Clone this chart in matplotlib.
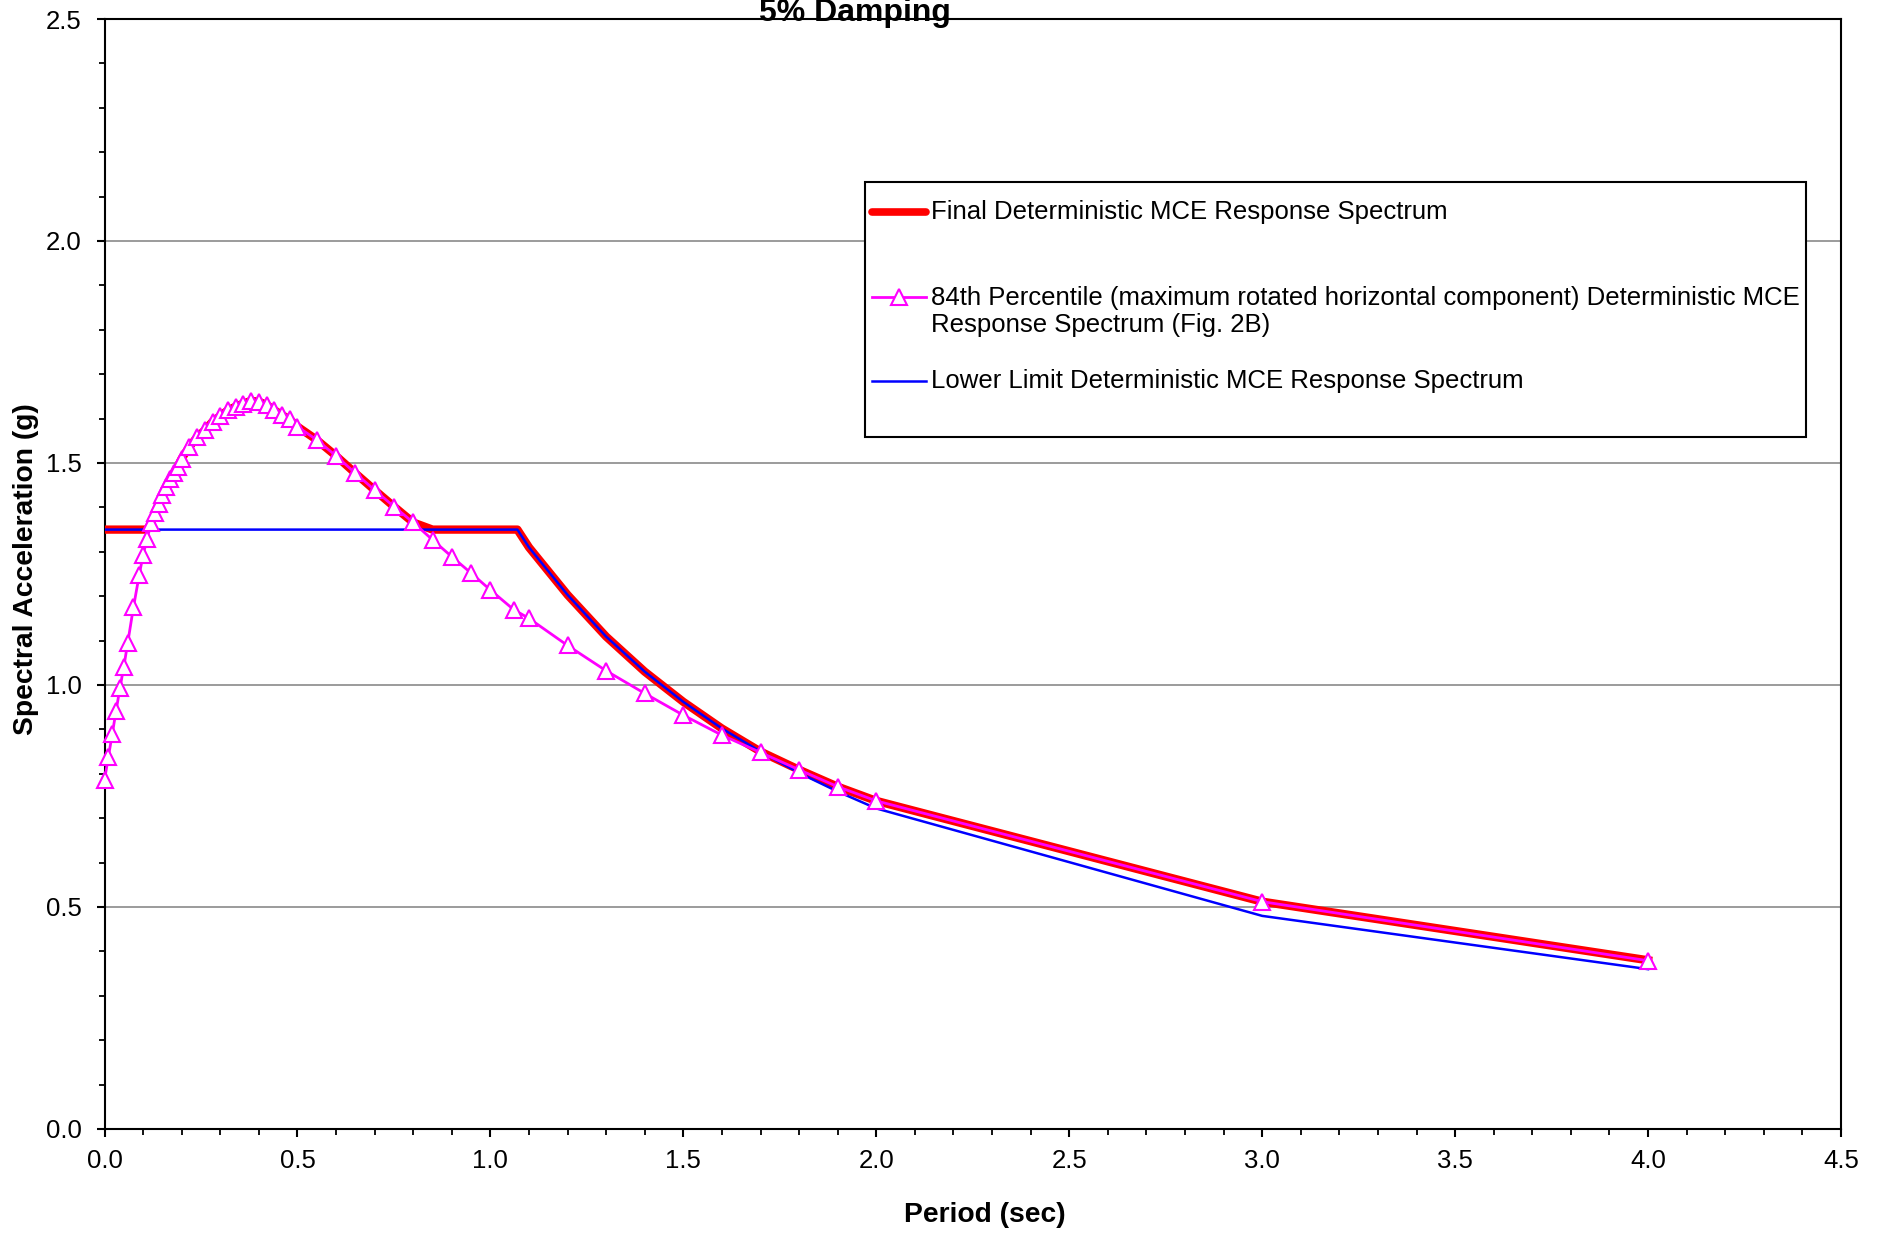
import matplotlib.pyplot as plt
from matplotlib.lines import Line2D
from matplotlib.patches import Rectangle
from matplotlib.ticker import MultipleLocator, FormatStrFormatter

plt.rcParams['font.family'] = ['Liberation Sans', 'DejaVu Sans']

# 84th percentile (maximum rotated horizontal component) spectrum
period_84 = [0.0, 0.01, 0.02, 0.03, 0.04, 0.05, 0.06, 0.075, 0.09, 0.10,
             0.11, 0.12, 0.13, 0.14, 0.15, 0.16, 0.17, 0.18, 0.19, 0.20,
             0.22, 0.24, 0.26, 0.28, 0.30, 0.32, 0.34, 0.36, 0.38, 0.40,
             0.42, 0.44, 0.46, 0.48, 0.50, 0.55, 0.60, 0.65, 0.70, 0.75,
             0.80, 0.85, 0.90, 0.95, 1.00, 1.06, 1.10, 1.20, 1.30, 1.40,
             1.50, 1.60, 1.70, 1.80, 1.90, 2.00, 3.00, 4.00]
sa_84 = [0.786, 0.838, 0.889, 0.942, 0.993, 1.041, 1.094, 1.175, 1.248, 1.293,
         1.328, 1.364, 1.387, 1.408, 1.428, 1.445, 1.464, 1.478, 1.492, 1.510,
         1.537, 1.558, 1.574, 1.593, 1.606, 1.619, 1.627, 1.634, 1.640, 1.638,
         1.631, 1.619, 1.608, 1.598, 1.582, 1.552, 1.516, 1.477, 1.439, 1.402,
         1.366, 1.327, 1.289, 1.252, 1.214, 1.170, 1.150, 1.089, 1.032, 0.981,
         0.932, 0.887, 0.848, 0.809, 0.771, 0.739, 0.512, 0.379]

# lower limit spectrum
period_low = [0.0, 1.07, 1.10, 1.20, 1.30, 1.40, 1.50, 1.60, 1.70, 1.80,
              1.90, 2.00, 3.00, 4.00]
sa_low = [1.35, 1.35, 1.31, 1.203, 1.109, 1.03, 0.962, 0.902, 0.85, 0.802,
          0.76, 0.722, 0.48, 0.36]

# final spectrum
period_final = [0.0, 0.11, 0.12, 0.13, 0.14, 0.15, 0.16, 0.17, 0.18, 0.19,
                0.20, 0.22, 0.24, 0.26, 0.28, 0.30, 0.32, 0.34, 0.36, 0.38,
                0.40, 0.42, 0.44, 0.46, 0.48, 0.50, 0.55, 0.60, 0.65, 0.70,
                0.75, 0.80, 0.85, 1.07, 1.10, 1.20, 1.30, 1.40, 1.50, 1.60,
                1.70, 1.80, 1.90, 2.00, 3.00, 4.00]
sa_final = [1.35, 1.35, 1.364, 1.387, 1.408, 1.428, 1.445, 1.464, 1.478, 1.492,
            1.510, 1.537, 1.558, 1.574, 1.593, 1.606, 1.619, 1.627, 1.634, 1.640,
            1.638, 1.631, 1.619, 1.608, 1.598, 1.582, 1.552, 1.516, 1.477, 1.439,
            1.402, 1.366, 1.35, 1.35, 1.31, 1.203, 1.109, 1.03, 0.962, 0.902,
            0.85, 0.809, 0.771, 0.739, 0.512, 0.38]

labels = ["Final Deterministic MCE Response Spectrum",
          "84th Percentile (maximum rotated horizontal component) Deterministic MCE\n"
          "Response Spectrum (Fig. 2B)",
          "Lower Limit Deterministic MCE Response Spectrum"]

red = "#FF0000"
magenta = "#FF00FF"
blue = "#0000FF"

fig = plt.figure(figsize=(18.83, 12.33), dpi=100)
ax = fig.add_axes([0.0555, 0.08435, 0.9222, 0.90024])

ax.plot(period_final, sa_final, color=red, lw=6, zorder=3)
ax.plot(period_low, sa_low, color=blue, lw=1.8, zorder=4)
ax.plot(period_84, sa_84, color=magenta, lw=2, marker="^", ms=11,
        mfc="white", mec=magenta, mew=1.5, zorder=5, clip_on=False)

ax.set_xlim(0, 4.5)
ax.set_ylim(0, 2.5)
ax.xaxis.set_major_locator(MultipleLocator(0.5))
ax.xaxis.set_minor_locator(MultipleLocator(0.1))
ax.yaxis.set_major_locator(MultipleLocator(0.5))
ax.yaxis.set_minor_locator(MultipleLocator(0.1))
ax.xaxis.set_major_formatter(FormatStrFormatter("%.1f"))
ax.yaxis.set_major_formatter(FormatStrFormatter("%.1f"))
ax.tick_params(which="major", length=5.5, width=1.5, labelsize=18.5, color="black")
ax.tick_params(axis="x", which="major", pad=9)
ax.tick_params(axis="y", which="major", pad=11)
ax.tick_params(which="minor", length=4, width=1.3, color="black")

ax.yaxis.grid(True, color="#808080", lw=1.1)
ax.set_axisbelow(True)
for s in ax.spines.values():
    s.set_linewidth(1.5)
    s.set_color("black")

ax.set_xlabel("Period (sec)", fontsize=20.3, fontweight="bold", va="center")
ax.xaxis.set_label_coords(0.507, -0.0775)
ax.set_ylabel("Spectral Acceleration (g)", fontsize=20.3, fontweight="bold", va="center")
ax.yaxis.set_label_coords(-0.0452, 0.504)

fig.text(855 / 1883, 1 - 21 / 1233, "5% Damping", ha="center", va="baseline",
         fontsize=23, fontweight="bold")

# legend box, laid out like the spreadsheet legend
tf = fig.transFigure
box = Rectangle((0.4594, 0.6456), 0.4997, 0.2064, transform=tf,
                facecolor="white", edgecolor="black", lw=1.5, zorder=10)
fig.add_artist(box)
hx = [0.4631, 0.4918]
rows = [0.8283, 0.7594, 0.6912]
fig.add_artist(Line2D(hx, [rows[0]] * 2, transform=tf, color=red, lw=5.5,
                      solid_capstyle="round", zorder=11))
fig.add_artist(Line2D(hx, [rows[1]] * 2, transform=tf, color=magenta, lw=2,
                      zorder=11))
fig.add_artist(Line2D([sum(hx) / 2], [rows[1]], transform=tf, color=magenta,
                      marker="^", ms=11, mfc="white", mec=magenta, mew=1.5, zorder=12))
fig.add_artist(Line2D(hx, [rows[2]] * 2, transform=tf, color=blue, lw=1.8,
                      zorder=11))
tx = 0.4944
fig.text(tx, rows[0], labels[0], fontsize=18.5, va="center", zorder=12)
fig.text(tx, rows[1] - 14.8 / 1233, labels[1], fontsize=18.5, va="center",
         linespacing=1.18, zorder=12)
fig.text(tx, rows[2], labels[2], fontsize=18.5, va="center", zorder=12)

fig.savefig("out.png", dpi=100)
